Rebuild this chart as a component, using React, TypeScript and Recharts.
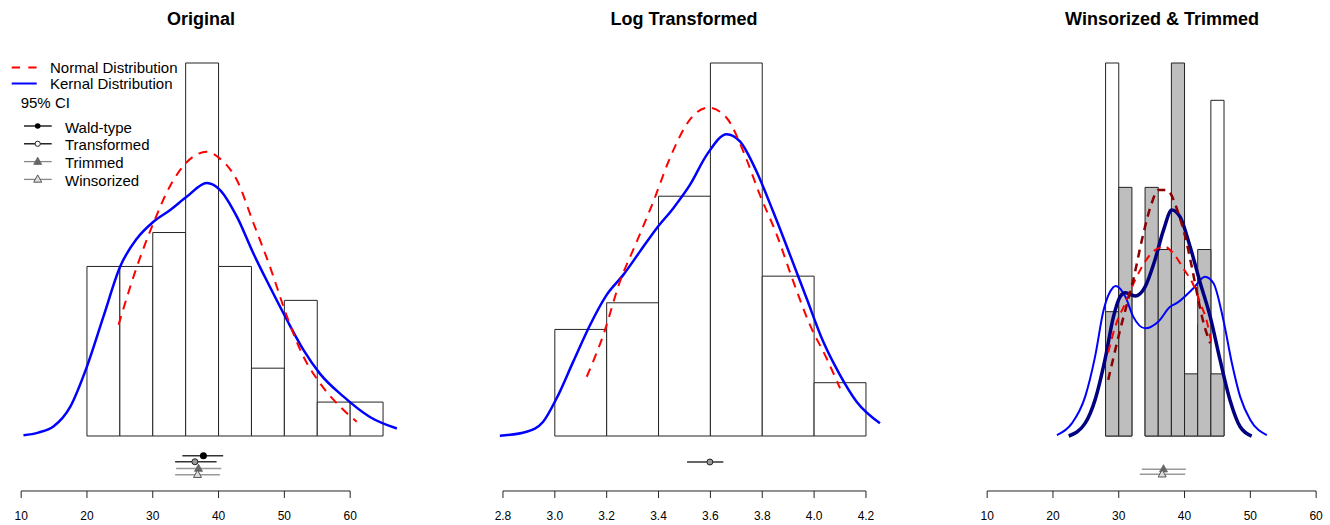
import React from 'react';
import { ComposedChart, Line, Scatter, XAxis, YAxis, ReferenceArea, ReferenceLine } from 'recharts';

const FONT = '"Liberation Sans", Arial, Helvetica, sans-serif';

// ---------- Original ----------
const origBreaks = [20, 25, 30, 35, 40, 45, 50, 55, 60, 65];
const origDensity = [0.025, 0.025, 0.03, 0.055, 0.025, 0.01, 0.02, 0.005, 0.005];
const origNormX = [24.8, 27.6, 30.1, 32.6, 35.2, 38.2, 40.2, 42.8, 45.3, 47.8, 50.4, 52.9, 55.4, 58.5, 61.0];
const origNormY = [0.0164, 0.025, 0.0314, 0.0368, 0.0404, 0.0419, 0.0409, 0.0377, 0.0314, 0.025, 0.0176, 0.0117, 0.0078, 0.0043, 0.0021];
const origKernX = [10.35, 12.6, 14.9, 17.45, 19.98, 22.5, 25.05, 27.58, 30.1, 32.6, 35.2, 38.2, 40.2, 42.8, 45.3, 47.8, 50.4, 52.9, 55.4, 59.0, 63.0, 67.1];
const origKernY = [0.0001, 0.0005, 0.0014, 0.0043, 0.0102, 0.0176, 0.025, 0.0291, 0.0316, 0.0333, 0.0353, 0.0373, 0.0363, 0.0323, 0.0269, 0.022, 0.0171, 0.0127, 0.0092, 0.0058, 0.0028, 0.0011];
const origCiNames = ['Wald-type', 'Transformed', 'Trimmed', 'Winsorized'];
const origCiLow = [34.5, 33.4, 33.55, 33.4];
const origCiEst = [37.7, 36.4, 36.95, 36.8];
const origCiHigh = [40.7, 39.7, 40.4, 40.2];
const origCiLevel = [-0.0029, -0.0038, -0.0048, -0.0057];

// ---------- Log transformed ----------
const logBreaks = [3.0, 3.2, 3.4, 3.6, 3.8, 4.0, 4.2];
const logDensity = [0.5, 0.625, 1.125, 1.75, 0.75, 0.25];
const logNormX = [3.123, 3.187, 3.251, 3.316, 3.38, 3.444, 3.521, 3.592, 3.663, 3.727, 3.791, 3.856, 3.92, 3.984, 4.048, 4.1];
const logNormY = [0.278, 0.474, 0.724, 0.912, 1.1, 1.304, 1.484, 1.541, 1.492, 1.335, 1.131, 0.944, 0.724, 0.521, 0.365, 0.224];
const logKernX = [2.788, 2.891, 2.955, 3.007, 3.071, 3.136, 3.2, 3.264, 3.328, 3.393, 3.457, 3.521, 3.586, 3.663, 3.714, 3.778, 3.842, 3.907, 3.971, 4.035, 4.1, 4.164, 4.254];
const logKernY = [0.001, 0.02, 0.067, 0.177, 0.349, 0.521, 0.662, 0.756, 0.865, 0.975, 1.069, 1.178, 1.319, 1.416, 1.382, 1.241, 1.053, 0.85, 0.646, 0.443, 0.286, 0.161, 0.06];
const logCiNames = ['Transformed'];
const logCiLow = [3.51];
const logCiEst = [3.598];
const logCiHigh = [3.65];
const logCiLevel = [-0.122];

// ---------- Winsorized & Trimmed ----------
const wtBreaks = [28, 30, 32, 34, 36, 38, 40, 42, 44, 46];
const winsDensity = [0.125, 0.05, 0, 0.05, 0.0375, 0.075, 0.0125, 0.0375, 0.1125];
const trimDensity = [0.04167, 0.08333, 0, 0.08333, 0.0625, 0.125, 0.02083, 0.0625, 0.02083];
const winsKernX = [20.6, 22.9, 24.9, 26.4, 27.7, 28.7, 29.56, 31.0, 32.2, 34.0, 36.0, 37.8, 38.8, 41.35, 43.1, 44.4, 45.9, 47.2, 48.45, 50.0, 52.5];
const winsKernY = [0.0003, 0.0043, 0.0132, 0.0266, 0.0422, 0.0484, 0.0503, 0.0467, 0.04, 0.0361, 0.0383, 0.0433, 0.0445, 0.0495, 0.0534, 0.0512, 0.0389, 0.0244, 0.0132, 0.0054, 0.0003];
const trimKernX = [22.4, 24.9, 26.4, 27.9, 29.2, 30.2, 31.0, 32.5, 34.0, 35.5, 36.8, 38.07, 39.3, 40.85, 42.4, 43.9, 45.4, 46.9, 48.45, 50.2];
const trimKernY = [0.0, 0.0043, 0.0121, 0.0255, 0.04, 0.0467, 0.048, 0.0469, 0.05, 0.059, 0.069, 0.0757, 0.0735, 0.0634, 0.0512, 0.04, 0.0255, 0.0121, 0.0031, 0.0];
const winsNormX = [28.4, 29.45, 31.0, 32.5, 34.0, 35.5, 37.0, 38.3, 39.8, 41.35, 42.4, 43.4, 44.1];
const winsNormY = [0.028, 0.0366, 0.0445, 0.0523, 0.0584, 0.0623, 0.0634, 0.0612, 0.0562, 0.0506, 0.0445, 0.0383, 0.031];
const trimNormX = [28.4, 30.2, 32.2, 33.75, 35.0, 36.0, 37.3, 39.07, 40.1, 41.1, 42.1, 42.9, 43.9];
const trimNormY = [0.0188, 0.0355, 0.0523, 0.0679, 0.078, 0.0824, 0.0824, 0.0746, 0.0668, 0.0567, 0.0456, 0.0378, 0.0311];
const wtCiNames = ['Trimmed', 'Winsorized'];
const wtCiLow = [33.5, 33.2];
const wtCiEst = [36.8, 36.6];
const wtCiHigh = [40.2, 40.1];
const wtCiLevel = [-0.0111, -0.0128];

const ticks10 = [10, 20, 30, 40, 50, 60];
const ticksLog = [2.8, 3.0, 3.2, 3.4, 3.6, 3.8, 4.0, 4.2];

const pts = (xs: number[], ys: number[]) => xs.map((x, i) => ({ x, y: ys[i] }));
const bins = (breaks: number[], dens: number[]) =>
  dens.map((d, i) => ({ x1: breaks[i], x2: breaks[i + 1], y: d }));
const cis = (names: string[], lo: number[], est: number[], hi: number[], lev: number[]) =>
  names.map((name, i) => ({ name, lo: lo[i], est: est[i], hi: hi[i], level: lev[i] }));

const ciLineColor: Record<string, string> = {
  'Wald-type': '#333',
  Transformed: '#333',
  Trimmed: '#999',
  Winsorized: '#999',
};

function Marker({ kind, cx, cy, legend }: { kind: string; cx: number; cy: number; legend?: boolean }) {
  if (kind === 'Wald-type') return <circle cx={cx} cy={cy} r={legend ? 2.8 : 3.5} fill="#000" />;
  if (kind === 'Transformed')
    return <circle cx={cx} cy={cy} r={legend ? 2.6 : 3} fill={legend ? '#fff' : '#999'} stroke="#222" strokeWidth={1} />;
  const tri = `M${cx},${cy - 4.5} L${cx - 4},${cy + 2.8} L${cx + 4},${cy + 2.8} Z`;
  if (kind === 'Trimmed') return <path d={tri} fill="#666" stroke="#666" strokeWidth={0.8} />;
  return <path d={tri} fill="#ddd" stroke="#555" strokeWidth={1} />;
}

type Curve = { data: { x: number; y: number }[]; color: string; width: number; dash?: string };
type Hist = { bars: { x1: number; x2: number; y: number }[]; fill: string };

type PanelProps = {
  left: number;
  width: number;
  xDomain: [number, number];
  yDomain: [number, number];
  ticks: number[];
  fmt?: (v: number) => string;
  hists: Hist[];
  curves: Curve[];
  ci: { name: string; lo: number; est: number; hi: number; level: number }[];
};

function Panel(p: PanelProps) {
  const axisFrom = p.ticks[0];
  const axisTo = p.ticks[p.ticks.length - 1];
  return (
    <div style={{ position: 'absolute', left: p.left, top: 0 }}>
      <ComposedChart width={p.width} height={525} margin={{ top: 63, right: 0, bottom: 0, left: 0 }}>
        <XAxis
          type="number"
          dataKey="x"
          domain={p.xDomain}
          ticks={p.ticks}
          interval={0}
          allowDataOverflow
          axisLine={false}
          tickLine={{ stroke: '#222' }}
          tickSize={7}
          tickMargin={13}
          height={34}
          tick={{ fontSize: 12, fill: '#000', fontFamily: FONT }}
          tickFormatter={p.fmt}
        />
        <YAxis type="number" dataKey="y" domain={p.yDomain} hide allowDataOverflow />
        {p.hists.map((h, hi) =>
          h.bars.map((b, i) => (
            <ReferenceArea
              key={`h${hi}-${i}`}
              x1={b.x1}
              x2={b.x2}
              y1={0}
              y2={b.y}
              fill={h.fill}
              fillOpacity={1}
              stroke="#222"
              strokeWidth={1}
              ifOverflow="visible"
            />
          ))
        )}
        <ReferenceLine
          segment={[
            { x: axisFrom, y: p.yDomain[0] },
            { x: axisTo, y: p.yDomain[0] },
          ]}
          stroke="#222"
          strokeWidth={1}
          ifOverflow="visible"
        />
        {p.curves.map((c, i) => (
          <Line
            key={`c${i}`}
            data={c.data}
            dataKey="y"
            type="monotone"
            stroke={c.color}
            strokeWidth={c.width}
            strokeDasharray={c.dash}
            dot={false}
            activeDot={false}
            isAnimationActive={false}
          />
        ))}
        {p.ci.map((c, i) => (
          <ReferenceLine
            key={`ci${i}`}
            segment={[
              { x: c.lo, y: c.level },
              { x: c.hi, y: c.level },
            ]}
            stroke={ciLineColor[c.name]}
            strokeWidth={1.5}
            ifOverflow="visible"
          />
        ))}
        {p.ci.map((c, i) => (
          <Scatter
            key={`cp${i}`}
            data={[{ x: c.est, y: c.level }]}
            isAnimationActive={false}
            shape={(s: any) => <Marker kind={c.name} cx={s.cx} cy={s.cy} />}
          />
        ))}
      </ComposedChart>
    </div>
  );
}

const legendCi = ['Wald-type', 'Transformed', 'Trimmed', 'Winsorized'];
const legendCiColor = ['#000', '#000', '#888', '#888'];

function Overlay() {
  const t = { fontFamily: FONT, fontSize: 15, fill: '#000' } as const;
  const title = { fontFamily: FONT, fontSize: 18, fontWeight: 'bold', fill: '#000', textAnchor: 'middle' } as const;
  return (
    <svg width={1330} height={525} style={{ position: 'absolute', left: 0, top: 0, pointerEvents: 'none' }}>
      <text x={201} y={25} {...title}>Original</text>
      <text x={684} y={25} {...title}>Log Transformed</text>
      <text x={1162} y={25} {...title}>Winsorized &amp; Trimmed</text>

      <line x1={11.7} x2={36.7} y1={67.5} y2={67.5} stroke="#ff0000" strokeWidth={2} strokeDasharray="8.3 8.3" />
      <text x={50} y={73.3} {...t}>Normal Distribution</text>
      <line x1={11.7} x2={36.7} y1={83.5} y2={83.5} stroke="#0000ff" strokeWidth={2} />
      <text x={50} y={89.3} {...t}>Kernal Distribution</text>
      <text x={20.7} y={108.3} {...t}>95% CI</text>
      {legendCi.map((name, i) => {
        const y = 126 + i * 17.8;
        return (
          <g key={name}>
            <line x1={24} x2={51.7} y1={y} y2={y} stroke={legendCiColor[i]} strokeWidth={1.3} />
            <Marker kind={name} cx={37.7} cy={y} legend />
            <text x={65} y={y + 6.6} {...t}>{name}</text>
          </g>
        );
      })}
    </svg>
  );
}

export default function App() {
  return (
    <div style={{ position: 'absolute', left: 0, top: 0, width: 1330, height: 525, background: '#fff' }}>
      <Panel
        left={7.84}
        width={394.8}
        xDomain={[8, 68]}
        yDomain={[-0.00811, 0.055]}
        ticks={ticks10}
        hists={[{ bars: bins(origBreaks, origDensity), fill: '#fff' }]}
        curves={[
          { data: pts(origKernX, origKernY), color: '#0000ff', width: 2.5 },
          { data: pts(origNormX, origNormY), color: '#ff0000', width: 2, dash: '9 7' },
        ]}
        ci={cis(origCiNames, origCiLow, origCiEst, origCiHigh, origCiLevel)}
      />
      <Panel
        left={490.04}
        width={401.9}
        xDomain={[2.75, 4.3]}
        yDomain={[-0.258, 1.75]}
        ticks={ticksLog}
        fmt={(v: number) => v.toFixed(1)}
        hists={[{ bars: bins(logBreaks, logDensity), fill: '#fff' }]}
        curves={[
          { data: pts(logKernX, logKernY), color: '#0000ff', width: 2.5 },
          { data: pts(logNormX, logNormY), color: '#ff0000', width: 2, dash: '9 7' },
        ]}
        ci={cis(logCiNames, logCiLow, logCiEst, logCiHigh, logCiLevel)}
      />
      <Panel
        left={973.84}
        width={355.3}
        xDomain={[8, 62]}
        yDomain={[-0.01843, 0.125]}
        ticks={ticks10}
        hists={[
          { bars: bins(wtBreaks, winsDensity), fill: '#fff' },
          { bars: bins(wtBreaks, trimDensity), fill: '#bebebe' },
        ]}
        curves={[
          { data: pts(winsKernX, winsKernY), color: '#0000ff', width: 2 },
          { data: pts(trimKernX, trimKernY), color: '#000080', width: 3.5 },
          { data: pts(winsNormX, winsNormY), color: '#ff0000', width: 2, dash: '8 6' },
          { data: pts(trimNormX, trimNormY), color: '#8b0000', width: 2.5, dash: '8 6' },
        ]}
        ci={cis(wtCiNames, wtCiLow, wtCiEst, wtCiHigh, wtCiLevel)}
      />
      <Overlay />
    </div>
  );
}
